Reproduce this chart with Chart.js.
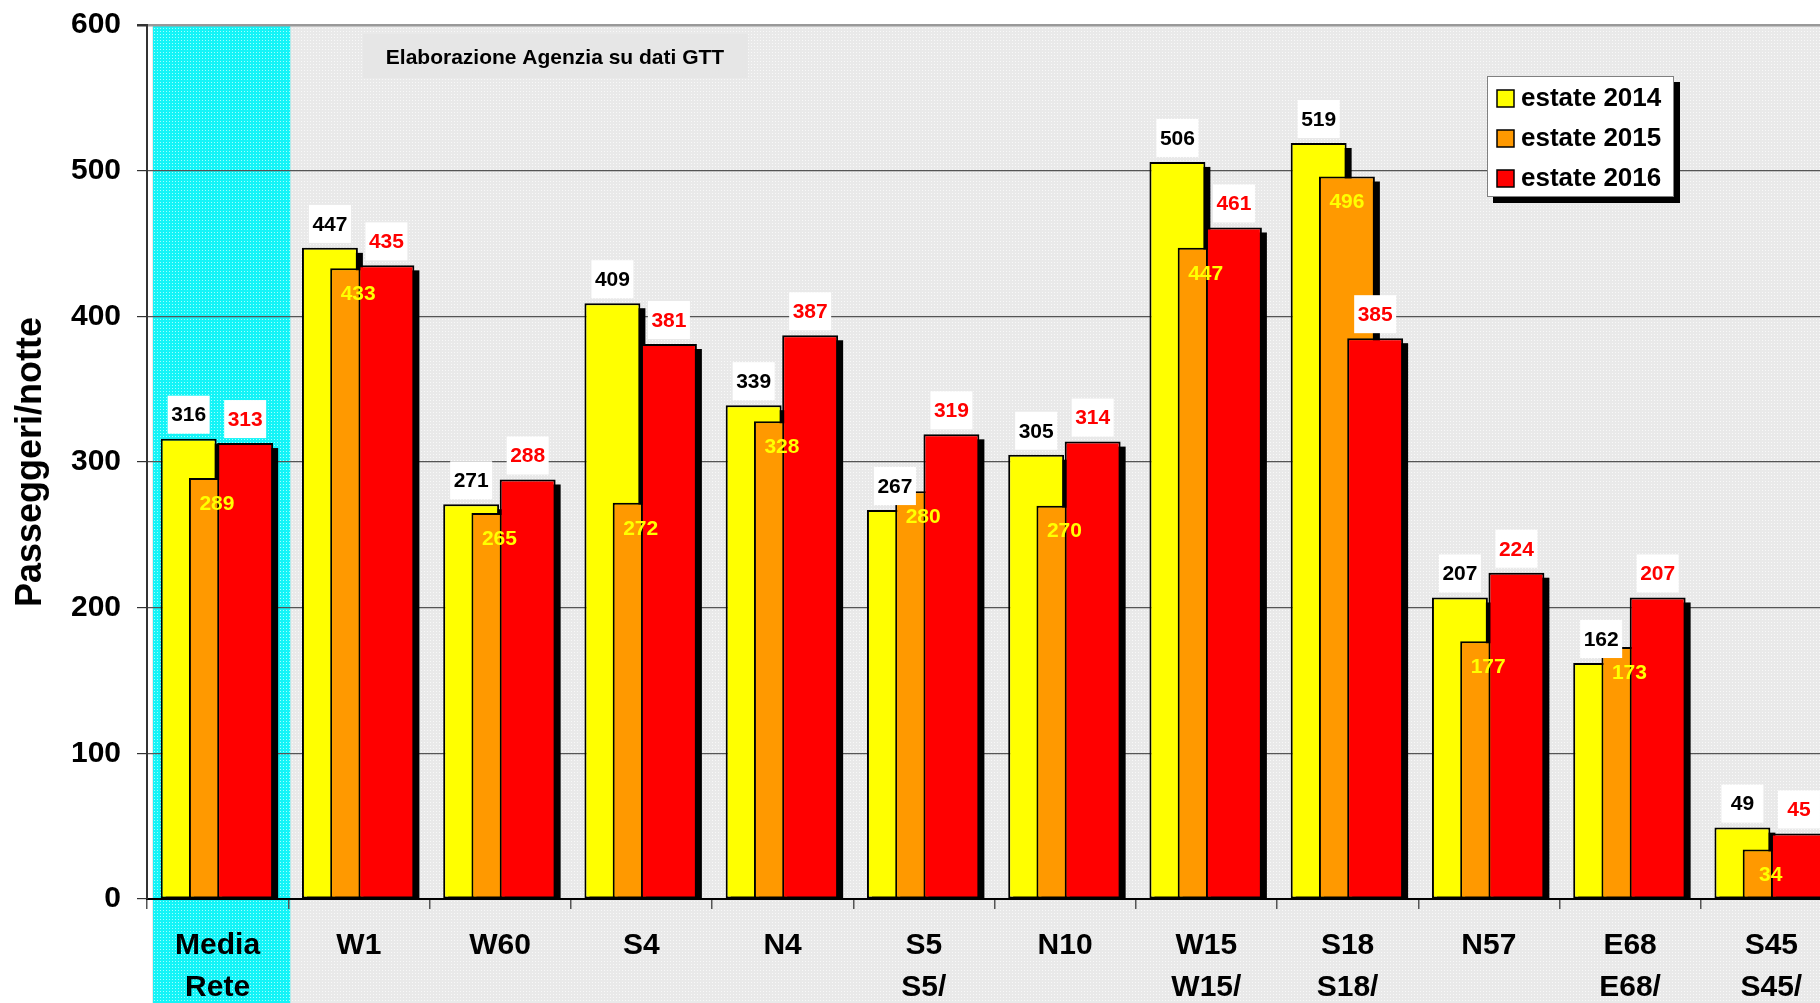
<!DOCTYPE html>
<html lang="it">
<head>
<meta charset="utf-8">
<title>Passeggeri/notte</title>
<script src="https://cdn.jsdelivr.net/npm/chart.js@4.4.1/dist/chart.umd.min.js"></script>
<style>
    html, body { margin: 0; padding: 0; background: #fff; overflow: hidden; }
    #chart { display: block; }
</style>
</head>
<body>
<canvas id="chart" width="1860" height="1003"></canvas>
<script>
// ===================== DATI =====================
const categories = [['Media', 'Rete'], 'W1', 'W60', 'S4', 'N4', ['S5', 'S5/'], 'N10',
    ['W15', 'W15/'], ['S18', 'S18/'], 'N57', ['E68', 'E68/'], ['S45', 'S45/']];
const estate2014 = [316, 447, 271, 409, 339, 267, 305, 506, 519, 207, 162, 49];
const estate2015 = [289, 433, 265, 272, 328, 280, 270, 447, 496, 177, 173, 34];
const estate2016 = [313, 435, 288, 381, 387, 319, 314, 461, 385, 224, 207, 45];
const seriesLabels = ['estate 2014', 'estate 2015', 'estate 2016'];
const yTicks = [0, 100, 200, 300, 400, 500, 600];
const yTitle = 'Passeggeri/notte';
const sourceNote = 'Elaborazione Agenzia su dati GTT';

// ===================== STILE =====================
const FONT = '"Liberation Sans", Arial, sans-serif';
const colors = ['#ffff00', '#ff9900', '#ff0000'];
// spostamento di ogni serie dentro la categoria (barre sovrapposte)
const shifts = [-0.205, -0.005, 0.195];

function toPoints(values, shift) {
    return values.map((v, i) => ({ x: i + shift, y: v }));
}

function makeTile(base, dot) {
    const c = document.createElement('canvas');
    c.width = 3;
    c.height = 3;
    const g = c.getContext('2d');
    g.fillStyle = base;
    g.fillRect(0, 0, 3, 3);
    g.fillStyle = dot;
    g.fillRect(1, 1, 1, 1);
    return c;
}

// sfondo grigio puntinato + colonna ciano della media di rete
const backgroundPlugin = {
    id: 'sfondo',
    beforeDraw(chart) {
        const { ctx, chartArea, scales: { x } } = chart;
        ctx.save();
        ctx.fillStyle = ctx.createPattern(makeTile('#e9e9e9', '#f8f8f8'), 'repeat');
        ctx.fillRect(chartArea.left + 5, chartArea.top, chart.width - chartArea.left, chart.height - chartArea.top);
        const c0 = x.getPixelForValue(-0.5) + 6;
        const c1 = x.getPixelForValue(0.5) + 2;
        ctx.fillStyle = ctx.createPattern(makeTile('#14f4f7', '#a0ffff'), 'repeat');
        ctx.fillRect(c0, chartArea.top, c1 - c0, chart.height - chartArea.top);
        ctx.restore();
    }
};

// ombra nera sotto ogni barra
const shadowPlugin = {
    id: 'ombre',
    beforeDatasetDraw(chart, args) {
        const ctx = chart.ctx;
        ctx.save();
        ctx.fillStyle = '#000';
        args.meta.data.forEach(bar => {
            const { x, y, base, width } = bar.getProps(['x', 'y', 'base', 'width'], true);
            ctx.fillRect(x - width / 2 + 5, y + 5, width, base - y - 5);
        });
        ctx.restore();
    }
};

// etichette dei valori
const valuePlugin = {
    id: 'valori',
    afterDatasetsDraw(chart) {
        const ctx = chart.ctx;
        ctx.save();
        ctx.font = 'bold 21px ' + FONT;
        ctx.textAlign = 'center';
        ctx.textBaseline = 'middle';
        chart.data.datasets.forEach((ds, i) => {
            const meta = chart.getDatasetMeta(i);
            const st = ds.valueStyle;
            meta.data.forEach((bar, j) => {
                const cy = st.inside ? bar.y + 25 : bar.y - 24;
                if (st.box) {
                    ctx.fillStyle = '#fff';
                    ctx.fillRect(bar.x - 21, cy - 19, 42, 38);
                }
                ctx.fillStyle = st.color;
                ctx.fillText(String(ds.data[j].y), bar.x, cy + 1);
            });
        });
        ctx.restore();
    }
};

// nota fonte + legenda con ombra
const boxesPlugin = {
    id: 'riquadri',
    afterDraw(chart) {
        const ctx = chart.ctx;
        ctx.save();
        // nota
        ctx.fillStyle = '#e6e6e6';
        ctx.fillRect(363, 34, 385, 44);
        ctx.fillStyle = '#000';
        ctx.font = 'bold 21px ' + FONT;
        ctx.textAlign = 'center';
        ctx.textBaseline = 'middle';
        ctx.fillText(sourceNote, 555, 58);

        // legenda
        const lx = 1487, ly = 76, lw = 187, lh = 121;
        ctx.fillStyle = '#000';
        ctx.fillRect(lx + 6, ly + 6, lw, lh);
        ctx.fillStyle = '#fff';
        ctx.fillRect(lx, ly, lw, lh);
        ctx.strokeStyle = '#808080';
        ctx.lineWidth = 1;
        ctx.strokeRect(lx + 0.5, ly + 0.5, lw - 1, lh - 1);
        ctx.font = 'bold 26px ' + FONT;
        ctx.textAlign = 'left';
        chart.data.datasets.forEach((ds, i) => {
            const cy = ly + 22 + i * 40;
            ctx.fillStyle = ds.backgroundColor;
            ctx.fillRect(lx + 10, cy - 8, 17, 17);
            ctx.strokeStyle = '#000';
            ctx.lineWidth = 1.5;
            ctx.strokeRect(lx + 10, cy - 8, 17, 17);
            ctx.fillStyle = '#000';
            ctx.fillText(ds.label, lx + 34, cy + 1);
        });
        ctx.restore();
    }
};

new Chart(document.getElementById('chart'), {
    type: 'bar',
    data: {
        datasets: [
            {
                label: seriesLabels[0],
                data: toPoints(estate2014, shifts[0]),
                backgroundColor: colors[0],
                order: 2,
                valueStyle: { color: '#000', box: true, inside: false }
            },
            {
                label: seriesLabels[1],
                data: toPoints(estate2015, shifts[1]),
                backgroundColor: colors[1],
                order: 1,
                valueStyle: { color: '#ffff00', box: false, inside: true }
            },
            {
                label: seriesLabels[2],
                data: toPoints(estate2016, shifts[2]),
                backgroundColor: colors[2],
                order: 0,
                valueStyle: { color: '#ff0000', box: true, inside: false }
            }
        ]
    },
    options: {
        responsive: false,
        animation: false,
        devicePixelRatio: 1,
        layout: { padding: { top: 25, right: 18, left: 0, bottom: 0 } },
        datasets: {
            bar: {
                grouped: false,
                categoryPercentage: 1,
                barPercentage: 1.98,
                borderColor: '#000',
                borderWidth: 2,
                borderSkipped: false
            }
        },
        plugins: {
            legend: { display: false },
            tooltip: { enabled: false }
        },
        scales: {
            x: {
                type: 'linear',
                min: -0.5,
                max: categories.length - 0.5,
                offset: false,
                afterBuildTicks: s => {
                    s.ticks = categories.map((c, i) => ({ value: i - 0.5 }))
                        .concat([{ value: categories.length - 0.5 }]);
                },
                afterFit: s => { s.height = 104; },
                grid: {
                    offset: false,
                    drawOnChartArea: false,
                    drawTicks: true,
                    tickLength: 10,
                    color: '#555',
                    lineWidth: 1.5
                },
                border: { color: '#000', width: 2 },
                ticks: {
                    autoSkip: false,
                    maxRotation: 0,
                    minRotation: 0,
                    padding: 16,
                    labelOffset: 70.6,
                    color: '#000',
                    font: { family: FONT, size: 30, weight: 'bold', lineHeight: 1.4 },
                    callback: v => categories[Math.round(v + 0.5)] ?? ''
                }
            },
            y: {
                min: 0,
                max: 600,
                afterBuildTicks: s => { s.ticks = yTicks.map(v => ({ value: v })); },
                afterFit: s => {
                    s.width = 147;
                    s.paddingTop = 0;
                    s.paddingBottom = 0;
                },
                grid: {
                    color: c => (c.tick && c.tick.value === 600 ? '#999' : '#555'),
                    lineWidth: c => (c.tick && c.tick.value === 600 ? 2.5 : 1.2),
                    tickLength: 10,
                    tickColor: '#333'
                },
                border: { color: '#333', width: 2 },
                ticks: {
                    padding: 16,
                    color: '#000',
                    font: { family: FONT, size: 30, weight: 'bold' }
                },
                title: {
                    display: true,
                    text: yTitle,
                    color: '#000',
                    padding: { top: 9, bottom: 0 },
                    font: { family: FONT, size: 36, weight: 'bold' }
                }
            }
        }
    },
    plugins: [backgroundPlugin, shadowPlugin, valuePlugin, boxesPlugin]
});
</script>
</body>
</html>
